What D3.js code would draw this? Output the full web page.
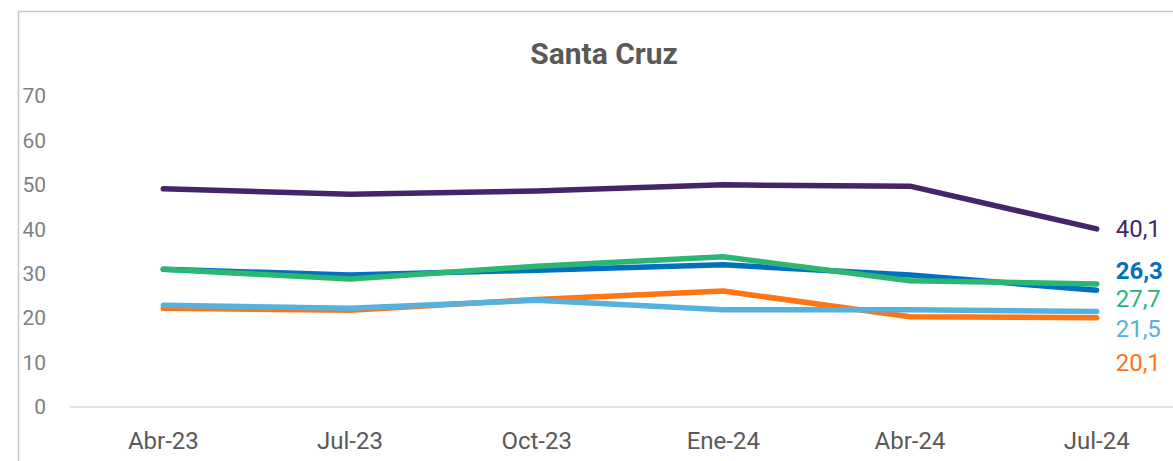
<!DOCTYPE html>
<html>
<head>
<meta charset="utf-8">
<script src="https://cdn.jsdelivr.net/npm/d3@7"></script>
<style>
  body { margin: 0; background: #fff; }
  svg { display: block; font-family: Roboto, 'Liberation Sans', sans-serif; }
</style>
</head>
<body>
<div class="graph"></div>
<script>
const width = 1173;
const height = 461;

const categories = ['Abr-23', 'Jul-23', 'Oct-23', 'Ene-24', 'Abr-24', 'Jul-24'];
const yTicks = [0, 10, 20, 30, 40, 50, 60, 70];

const purple = [49.1, 47.9, 48.6, 50.0, 49.7, 40.1];
const blue = [31.0, 29.7, 30.8, 32.0, 29.7, 26.3];
const green = [31.0, 28.8, 31.7, 33.8, 28.4, 27.7];
const orange = [22.2, 21.8, 24.2, 26.1, 20.3, 20.1];
const lightBlue = [22.9, 22.2, 24.0, 21.9, 21.9, 21.5];

const series = [
  { values: purple, color: '#44256a', labelDy: 0, bold: false },
  { values: blue, color: '#0070c0', labelDy: -20, bold: true },
  { values: green, color: '#2bb673', labelDy: 15, bold: false },
  { values: orange, color: '#ff7514', labelDy: 45, bold: false },
  { values: lightBlue, color: '#55b1de', labelDy: 17, bold: false },
];

const svg = d3.select('.graph')
  .append('svg')
    .attr('width', width)
    .attr('height', height);

// outer frame
svg.append('rect')
  .attr('x', 18.5)
  .attr('y', 11.5)
  .attr('width', width)
  .attr('height', height)
  .attr('fill', 'none')
  .attr('stroke', '#c8c8c8')
  .attr('stroke-width', 1.5);

svg.append('text')
  .text('Santa Cruz')
  .attr('x', 604)
  .attr('y', 64)
  .attr('text-anchor', 'middle')
  .attr('font-size', 30)
  .attr('font-weight', 'bold')
  .attr('fill', '#595959');

const x = d3.scaleBand()
  .domain(categories)
  .range([70, 1190]);

const y = d3.scaleLinear()
  .domain([0, 70])
  .range([407, 96]);

const cx = d => x(d) + x.bandwidth() / 2;

// baseline
svg.append('line')
  .attr('x1', 70)
  .attr('x2', width)
  .attr('y1', y(0))
  .attr('y2', y(0))
  .attr('stroke', '#d9d9d9')
  .attr('stroke-width', 1.5);

const yAxis = svg.append('g')
  .attr('transform', 'translate(46,0)')
  .call(d3.axisLeft(y).tickValues(yTicks).tickSize(0).tickPadding(0));
yAxis.select('.domain').remove();
yAxis.selectAll('text')
  .attr('font-size', 21)
  .attr('fill', '#808080')
  .attr('font-family', 'Roboto, sans-serif');

const xAxis = svg.append('g')
  .attr('transform', `translate(0,${y(0)})`)
  .call(d3.axisBottom(x).tickSize(0).tickPadding(25));
xAxis.select('.domain').remove();
xAxis.selectAll('text')
  .attr('font-size', 24)
  .attr('fill', '#595959')
  .attr('font-family', 'Roboto, sans-serif');

const line = d3.line()
  .x((d, i) => cx(categories[i]))
  .y(d => y(d));

svg.selectAll('.series')
  .data(series)
  .join('path')
    .attr('class', 'series')
    .attr('d', d => line(d.values))
    .attr('fill', 'none')
    .attr('stroke', d => d.color)
    .attr('stroke-width', 5.5)
    .attr('stroke-linecap', 'round')
    .attr('stroke-linejoin', 'round');

const last = categories.length - 1;
svg.selectAll('.label')
  .data(series)
  .join('text')
    .attr('class', 'label')
    .attr('x', cx(categories[last]) + 19)
    .attr('y', d => y(d.values[last]) + d.labelDy)
    .attr('dy', '0.35em')
    .attr('font-size', 24)
    .attr('font-weight', d => d.bold ? 'bold' : 'normal')
    .attr('fill', d => d.color)
    .text(d => d3.format('.1f')(d.values[last]).replace('.', ','));
</script>
</body>
</html>
